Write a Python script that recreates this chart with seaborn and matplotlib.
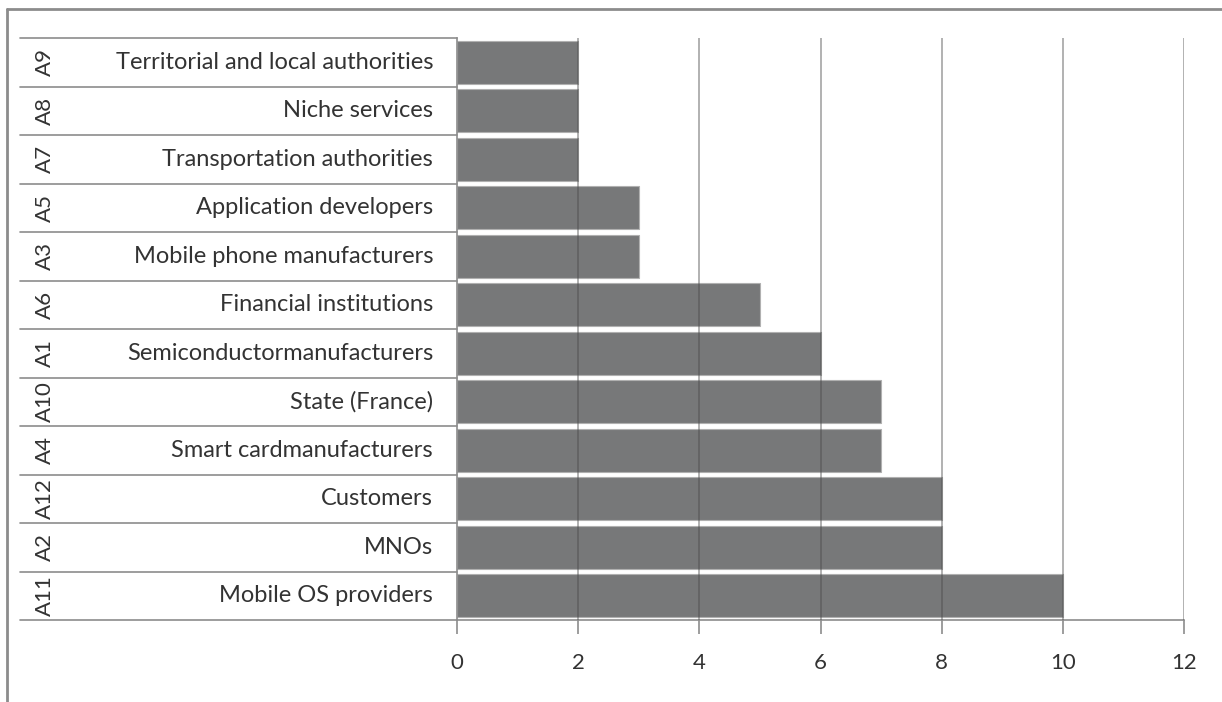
import matplotlib
matplotlib.use('Agg')
import matplotlib.pyplot as plt
import matplotlib.transforms as mtransforms
import seaborn as sns
import pandas as pd

# datos (de arriba hacia abajo)
codes = ['A9', 'A8', 'A7', 'A5', 'A3', 'A6', 'A1', 'A10', 'A4', 'A12', 'A2', 'A11']
actors = ['Territorial and local authorities', 'Niche services', 'Transportation authorities',
          'Application developers', 'Mobile phone manufacturers', 'Financial institutions',
          'Semiconductormanufacturers', 'State (France)', 'Smart cardmanufacturers',
          'Customers', 'MNOs', 'Mobile OS providers']
values = [2, 2, 2, 3, 3, 5, 6, 7, 7, 8, 8, 10]
xticks = [0, 2, 4, 6, 8, 10, 12]

df = pd.DataFrame({'code': codes, 'actor': actors, 'value': values})

sns.set_style('white')
plt.rcParams['font.family'] = ['Lato', 'DejaVu Sans']

W, H = 1222, 702
fig = plt.figure(figsize=(W / 100, H / 100), dpi=100)
ax = fig.add_axes([457 / W, (H - 620) / H, 727 / W, 582 / H])

sns.barplot(data=df, x='value', y='code', order=codes, orient='h', color='#777879',
            width=0.88, edgecolor='#b0b0b0', linewidth=0.8, saturation=1, ax=ax)

ax.set_xlim(0, 12)
ax.set_ylim(len(codes) - 0.5, -0.5)
ax.set_xticks(xticks)
ax.set_xticklabels([str(t) for t in xticks], fontsize=16, color='#333333')
ax.set_yticks([])
ax.set_xlabel('')
ax.set_ylabel('')
for s in ['top', 'right']:
    ax.spines[s].set_visible(False)
for s in ['left', 'bottom']:
    ax.spines[s].set_color('#8c8c8c')
    ax.spines[s].set_linewidth(1.2)
ax.tick_params(axis='x', length=10, width=1.2, color='#8c8c8c', pad=14, bottom=True)

# lineas de la cuadricula encima de las barras
for t in xticks[1:]:
    ax.axvline(t, color='#4a4a4a', alpha=0.5, lw=1.2, zorder=5)

# tabla de categorias a la izquierda
blend = mtransforms.blended_transform_factory(fig.transFigure, ax.transData)
for i in range(len(codes) + 1):
    ax.plot([20 / W, 457 / W], [i - 0.5, i - 0.5], transform=blend, color='#8c8c8c',
            lw=1.2, clip_on=False)
for i, (c, a) in enumerate(zip(codes, actors)):
    ax.text(45 / W, i, c, transform=blend, rotation=90, ha='center', va='center',
            fontsize=16, color='#333333')
    ax.text(433 / W, i, a, transform=blend, ha='right', va='center',
            fontsize=17, color='#333333')

# marco de la figura
fig.add_artist(plt.Line2D([7 / W, 1], [1 - 9 / H, 1 - 9 / H], color='#8c8c8c', lw=2))
fig.add_artist(plt.Line2D([7 / W, 7 / W], [0, 1 - 9 / H], color='#8c8c8c', lw=2))

plt.savefig('out.png', dpi=100)
